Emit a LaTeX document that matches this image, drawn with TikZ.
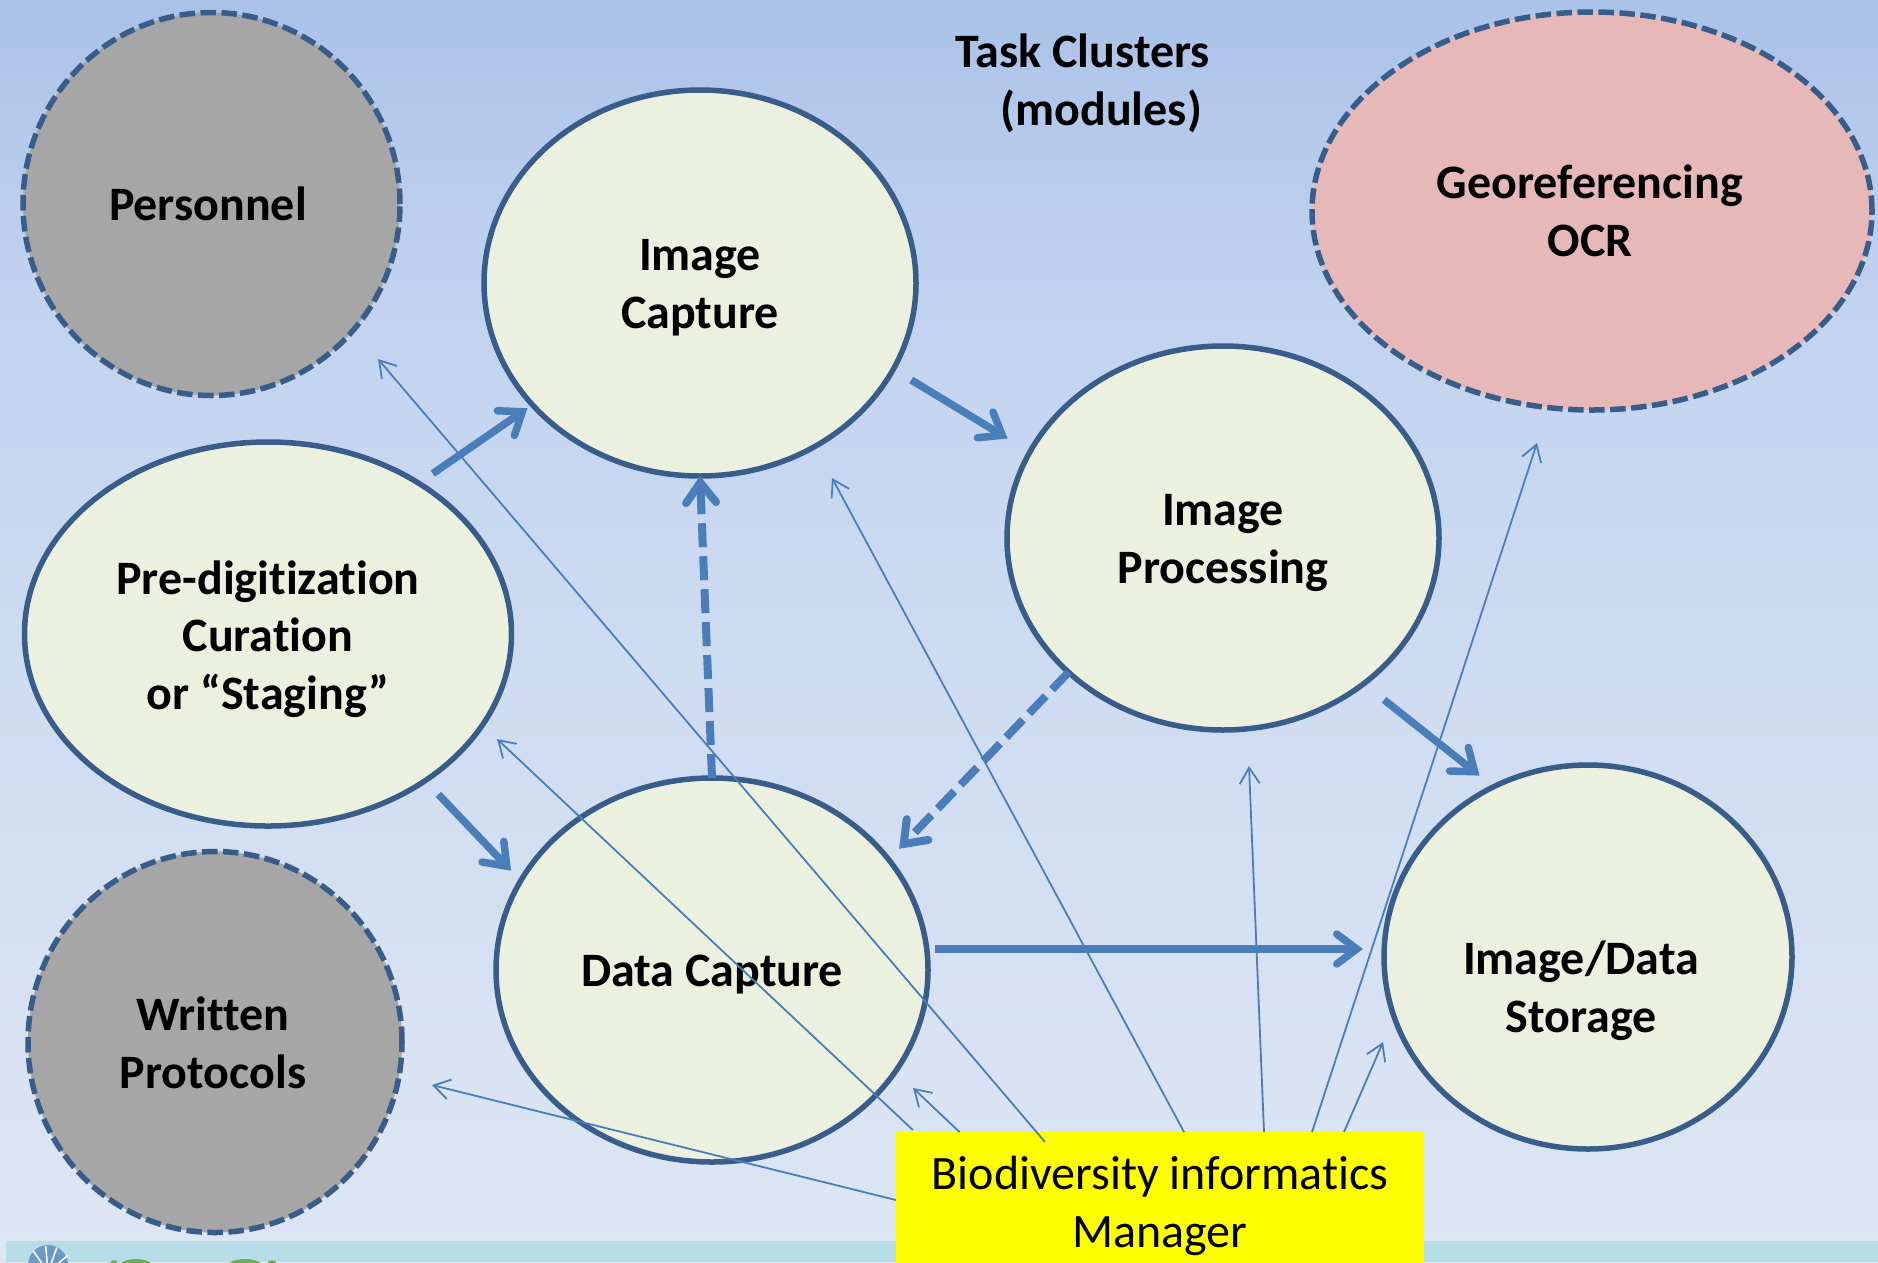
\documentclass[tikz,border=0pt]{standalone}
\usepackage{fontspec}
\setmainfont{Carlito}[Ligatures=CommonOff]
\usetikzlibrary{shapes.geometric,arrows.meta}
\definecolor{rimblue}{HTML}{385D8A}
\definecolor{arrowblue}{HTML}{4A7EBB}
\definecolor{modulefill}{HTML}{EBF1DE}
\definecolor{supportgrey}{HTML}{A6A6A6}
\definecolor{ocrpink}{HTML}{E6B9B8}
\definecolor{stripblue}{HTML}{B7DDE8}
\definecolor{managerfill}{HTML}{FFFF00}
\definecolor{logoblue}{HTML}{6C9AC4}
\definecolor{logogreen}{HTML}{70AD50}
\definecolor{backtop}{RGB}{170,194,232}
\definecolor{backupper}{RGB}{194,211,240}
\definecolor{backmiddle}{RGB}{205,219,241}
\definecolor{backfoot}{RGB}{222,230,244}
\pgfdeclareverticalshading{slideback}{100bp}{
  color(0bp)=(backfoot);
  color(25bp)=(backfoot);
  color(50bp)=(backmiddle);
  color(63bp)=(backupper);
  color(75bp)=(backtop);
  color(100bp)=(backtop)}
\tikzset{
  bigtext/.style={font=\fontsize{48}{57.6}\selectfont\bfseries,align=center,text=black},
  module/.style={ellipse,draw=rimblue,line width=5.5pt,fill=modulefill,inner sep=0pt,outer sep=0pt},
  support/.style={module,fill=supportgrey,dash pattern=on 15.5pt off 5.5pt},
  flowarrow/.style={arrowblue,line width=7.5pt,-{Straight Barb[length=20pt,width=30pt,line cap=round]}},
  flowdashed/.style={flowarrow,line width=8pt,dash pattern=on 24pt off 9pt},
  managerarrow/.style={arrowblue,line width=1.8pt,-{Straight Barb[length=16pt,width=20pt]}}
}
\begin{document}
\begin{tikzpicture}[x=1pt,y=-1pt]
  \useasboundingbox (0,0) rectangle (1878,1262);
  % Background
  \shade[shading=slideback] (0,0) rectangle (1878,1262);
  \fill[stripblue] (6,1241) rectangle (1878,1262);

  % Logo at the slide's foot
  \fill[logoblue] (48,1265) circle (20pt);
  \foreach \a in {70,95,125,40}
    \draw[white,line width=1.5pt] (48,1272) -- +(\a:26pt);
  \fill[logogreen] (114,1264) circle (4pt);
  \fill[logogreen] (136,1267) ellipse (17pt and 8pt);
  \fill[logogreen] (245,1267) ellipse (18pt and 8pt);
  \fill[logogreen] (272,1265) circle (5pt);

  % Task clusters
  \node[module,minimum width=432pt,minimum height=386pt] (imagecap) at (700,283) {};
  \node[module,minimum width=432pt,minimum height=384pt] (impro) at (1223,538) {};
  \node[module,minimum width=487pt,minimum height=384pt] (prestage) at (268,634) {};
  \node[module,minimum width=432pt,minimum height=384pt] (datacap) at (712,970) {};
  \node[module,minimum width=408pt,minimum height=384pt] (storage) at (1588,957) {};

  % Dashed ones
  \node[support,minimum width=377pt,minimum height=383pt] (personnel) at (211.5,204) {};
  \node[support,minimum width=374pt,minimum height=381pt] (protocols) at (215,1042) {};
  \node[support,fill=ocrpink,minimum width=560pt,minimum height=398pt] (georef) at (1592,211) {};

  % Names
  \node[bigtext] (imagecaptext) at (700,288) {Image\\Capture};
  \node[bigtext] (improtext) at (1223,543) {Image\\Processing};
  \node[bigtext] (prestagetext) at (268,639) {Pre-digitization\\Curation\\or “Staging”};
  \node[bigtext] (datacaptext) at (712,975) {Data Capture};
  \node[bigtext] (storagetext) at (1581,991) {Image/Data\\Storage};
  \node[bigtext] (personneltext) at (208,204) {Personnel};
  \node[bigtext] (protocolstext) at (213,1043) {Written\\Protocols};
  \node[bigtext] (georeftext) at (1590,211) {Georeferencing\\OCR};

  % Title
  \node[bigtext,anchor=west,align=left] (title) at (952,83) {Task Clusters\\\hspace*{45pt}(modules)};

  % Workflow
  \draw[flowarrow,shorten <=17pt,shorten >=6pt] (prestage.45.4) -- (imagecap.216.9);
  \draw[flowarrow,shorten <=21pt,shorten >=26pt] (imagecap.336.9) -- (impro.156.7);
  \draw[flowarrow,shorten <=19pt,shorten >=14pt] (prestage.317.5) -- (datacap.155.4);
  \draw[flowarrow,shorten <=26pt,shorten >=18pt] (impro.314.5) -- (storage.119.3);
  \draw[flowarrow,shorten <=7pt,shorten >=21pt] ([yshift=21pt]datacap.east) -- ([yshift=8pt]storage.west);
  \draw[flowdashed,shorten >=15pt] (impro.221.6) -- (datacap.32.4);
  \draw[flowdashed] (datacap.north) -- (imagecap.south);

  % Manager
  \node[rectangle,fill=managerfill,minimum width=528pt,minimum height=148pt,inner sep=0pt,outer sep=0pt,font=\fontsize{48}{57.6}\selectfont,align=center] (manager) at (1160,1206) {Biodiversity informatics\\Manager};

  % Free ends of the manager's arrows
  \coordinate (topersonnel) at (378,359);
  \coordinate (toprestage) at (497,739);
  \coordinate (todatacap) at (913,1088);
  \coordinate (toprotocols) at (432,1085);
  \coordinate (toimagecap) at (832,478);
  \coordinate (toimpro) at (1249,766);
  \coordinate (togeoref) at (1537,443);
  \coordinate (tostorage) at (1383,1042);

  \draw[managerarrow,shorten <=-13pt] ([xshift=-123.5pt]manager.north) -- (topersonnel);
  \draw[managerarrow,shorten <=3pt] ([xshift=-245pt]manager.north) -- (toprestage);
  \draw[managerarrow] ([xshift=-200.5pt]manager.north) -- (todatacap);
  \draw[managerarrow] ([yshift=6pt]manager.west) -- (toprotocols);
  \draw[managerarrow] ([xshift=24pt]manager.north) -- (toimagecap);
  \draw[managerarrow] ([xshift=104pt]manager.north) -- (toimpro);
  \draw[managerarrow] ([xshift=152pt]manager.north) -- (togeoref);
  \draw[managerarrow] ([xshift=184pt]manager.north) -- (tostorage);
\end{tikzpicture}
\end{document}
